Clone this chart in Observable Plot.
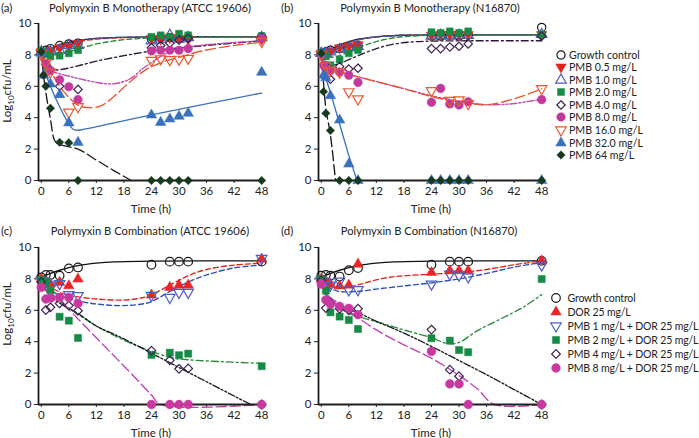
<!DOCTYPE html>
<html><head><meta charset="utf-8">
<script src="https://cdn.jsdelivr.net/npm/d3@7"></script>
<script src="https://cdn.jsdelivr.net/npm/@observablehq/plot@0.6"></script>
<style>
body{margin:0;background:#fff;font-family:Lato,"Open Sans",sans-serif;color:#222;}
#fig{position:relative;width:699px;height:438px;overflow:hidden;background:#fff;}
.abs{position:absolute;white-space:nowrap;}
.ttl{font-size:11.2px;transform:translate(-50%,-50%);}
.tag{font-size:11.5px;transform:translateY(-50%);}
.ylab{font-size:11.5px;transform:translate(-50%,-50%) rotate(-90deg);}
.ylab sub{font-size:8px;}
.leg{font-size:10.6px;}
.leg2{font-size:10.5px;letter-spacing:-0.15px;}
.legrow{position:absolute;display:flex;align-items:center;white-space:nowrap;transform:translateY(-50%);}
.legrow svg{display:block;}
</style></head><body><div id="fig"></div>
<script>
// ---------- data ----------
const timesMono = [0, 0.5, 1, 2, 4, 6, 8, 24, 26, 28, 30, 32, 48];
const timesCombo = [0, 1, 2, 4, 6, 8, 24, 28, 30, 32, 48];
const monoLabels = ["Growth control", "PMB 0.5 mg/L", "PMB 1.0 mg/L", "PMB 2.0 mg/L", "PMB 4.0 mg/L", "PMB 8.0 mg/L", "PMB 16.0 mg/L", "PMB 32.0 mg/L", "PMB 64 mg/L"];
const comboLabels = ["Growth control", "DOR 25 mg/L", "PMB 1 mg/L + DOR 25 mg/L", "PMB 2 mg/L + DOR 25 mg/L", "PMB 4 mg/L + DOR 25 mg/L", "PMB 8 mg/L + DOR 25 mg/L"];
const xTicks = [0, 6, 12, 18, 24, 30, 36, 42, 48];
const yTicks = [0, 2, 4, 6, 8, 10];

// (a) observed, Monotherapy ATCC 19606
const a_gc  = [8.2, null, 8.3, 8.4, 8.6, 8.7, 8.75, 9.0, 9.1, 9.1, 9.05, 9.1, 9.15];
const a_p05 = [8.2, null, 8.2, 8.3, 8.45, 8.55, 8.75, 9.05, 9.0, 9.1, 9.05, 9.0, 9.0];
const a_p1  = [8.2, null, 8.1, 8.2, 8.3, 8.6, 8.6, 8.9, 9.0, 9.25, 9.0, 9.1, 9.1];
const a_p2  = [8.25, null, 8.05, 7.9, 7.95, 8.1, 8.3, 9.15, 9.25, 9.15, 9.35, 9.25, 9.2];
const a_p4  = [8.1, null, 7.4, 7.05, 6.0, null, 5.8, 8.45, 8.6, 8.75, 8.95, 9.05, 9.1];
const a_p8  = [8.1, null, 7.45, 7.0, 6.42, 5.97, 5.15, 8.25, 8.3, 8.3, 8.3, 8.4, 9.05];
const a_p16 = [8.1, null, 7.5, 6.9, null, 4.35, 4.7, 7.65, 7.75, 7.7, 7.72, 7.78, 8.85];
const a_p32 = [8.1, 6.7, null, 6.15, 5.47, 3.67, 2.43, 4.17, 3.7, 3.92, 4.09, 4.28, 6.89];
const a_p64 = [8.2, 6.7, 6.0, 4.6, 2.43, 2.4, 0, 0, 0, 0, 0, 0, 0];
// (a) model fits [time, log10 cfu/mL]
const fa_gc  = [[0,8.2],[2,8.4],[4,8.65],[6,8.8],[8,8.92],[12,9.05],[18,9.12],[24,9.15],[48,9.15]];
const fa_p05 = [[0,8.2],[2,8.3],[4,8.5],[6,8.7],[8,8.85],[12,9.0],[18,9.1],[24,9.12],[48,9.12]];
const fa_p1  = [[0,8.2],[2,8.35],[4,8.6],[6,8.75],[8,8.9],[12,9.05],[18,9.12],[24,9.15],[48,9.15]];
const fa_p2  = [[0,8.2],[1,8.05],[2,8.0],[4,8.05],[6,8.2],[8,8.37],[12,8.7],[16,8.9],[20,9.02],[24,9.08],[32,9.12],[48,9.15]];
const fa_p4  = [[0,8.2],[1,7.5],[2,7.15],[3,7.05],[4,7.05],[8,7.3],[12,7.6],[18,7.95],[24,8.25],[30,8.45],[36,8.6],[42,8.75],[48,8.9]];
const fa_p8  = [[0,8.2],[1,7.4],[2,7.0],[4,6.8],[6,6.65],[8,6.5],[12,6.25],[15,6.15],[18,6.3],[20,6.6],[22,7.1],[24,7.5],[26,7.9],[28,8.2],[32,8.5],[40,8.75],[48,8.9]];
const fa_p16 = [[0,8.2],[1,7.6],[2,7.0],[4,6.0],[6,5.3],[8,4.8],[10,4.65],[13,4.75],[16,5.4],[19,6.2],[22,6.9],[24,7.25],[27,7.6],[30,7.85],[35,8.25],[42,8.6],[48,8.8]];
const fa_p32 = [[0,8.2],[0.5,7.3],[1,6.8],[2,6.0],[4,4.7],[6,3.6],[7,3.25],[8,3.2],[10,3.3],[24,4.18],[48,5.57]];
const fa_p64 = [[0,8.2],[0.5,6.7],[1,5.6],[2,3.9],[3,2.5],[4,2.3],[8,2.0],[12,1.3],[16,0.6],[19.6,0]];

// (b) observed, Monotherapy N16870
const b_gc  = [8.1, null, 8.2, 8.3, 8.4, 8.5, 8.6, 9.2, 9.2, 9.25, 9.2, 9.25, 9.75];
const b_p05 = [8.1, null, 8.15, 8.25, 8.45, 8.55, 8.65, 9.25, 9.3, 9.3, 9.3, 9.3, 9.3];
const b_p1  = [8.1, null, 8.1, 8.2, 8.35, 8.45, 8.55, 9.2, 9.25, 9.2, 9.25, 9.25, 9.3];
const b_p2  = [8.1, null, 7.9, 7.35, 7.7, 8.1, 8.3, 9.45, 9.4, 9.5, 9.4, 9.5, 9.3];
const b_p4  = [8.0, null, 7.3, 6.45, 7.25, 7.1, 7.15, 8.4, 8.4, 8.5, 8.55, 8.7, 9.2];
const b_p8  = [8.0, 7.35, 7.1, 7.0, 6.9, 6.7, 6.25, 4.98, 5.87, 4.87, 4.81, 5.02, 5.15];
const b_p16 = [8.0, null, 7.3, 7.0, 6.9, 5.65, 5.2, 5.72, null, 5.1, 5.13, 4.9, 5.85];
const b_p32 = [8.1, 6.7, 6.55, 5.4, 3.85, 1.05, 0, 0, 0, 0, 0, 0, 0];
const b_p64 = [8.1, 5.66, 4.28, 3.18, 0, 0, 0, 0, 0, 0, 0, 0, 0];
const fb_gc  = [[0,8.1],[2,8.35],[4,8.65],[6,8.85],[8,9.0],[12,9.15],[18,9.25],[24,9.28],[48,9.28]];
const fb_p05 = [[0,8.1],[2,8.3],[4,8.55],[6,8.78],[8,8.95],[12,9.15],[18,9.25],[24,9.28],[48,9.28]];
const fb_p1  = [[0,8.1],[2,8.32],[4,8.6],[6,8.8],[8,8.98],[12,9.15],[18,9.25],[48,9.28]];
const fb_p2  = [[0,8.1],[1,7.95],[2,7.85],[4,7.95],[6,8.2],[8,8.45],[12,8.85],[16,9.1],[20,9.2],[24,9.25],[48,9.28]];
const fb_p4  = [[0,8.1],[1,7.55],[2,7.35],[4,7.45],[6,7.7],[8,7.95],[12,8.4],[16,8.7],[20,8.83],[24,8.88],[48,8.9]];
const fb_p8  = [[0,8.1],[0.5,7.5],[1,7.2],[2,7.0],[4,6.9],[8,6.6],[12,6.3],[18,5.85],[24,5.4],[30,5.05],[36,4.83],[42,4.9],[48,5.19]];
const fb_p16 = [[0,8.1],[0.5,7.5],[1,7.2],[2,7.0],[4,6.9],[8,6.6],[12,6.3],[18,5.85],[24,5.35],[30,5.0],[36,4.83],[42,5.2],[48,5.83]];
const fb_p32 = [[0,8.1],[0.5,6.9],[1,6.5],[2,5.6],[4,3.6],[6,1.6],[7.8,0]];
const fb_p64 = [[0,8.1],[0.5,6.2],[1,4.6],[2,2.9],[3.1,0]];

// (c) observed, Combination ATCC 19606
const c_gc  = [8.1, 8.25, 8.25, 8.2, 8.67, 8.73, 8.9, 9.1, 9.1, 9.1, 9.1];
const c_dor = [8.0, 7.8, 7.67, 7.78, 7.56, 7.99, 6.97, 7.46, 7.6, 7.6, 9.26];
const c_p1  = [7.9, 7.8, 7.6, 7.7, 7.0, 6.93, 6.95, 6.82, 7.14, 7.14, 9.3];
const c_p2  = [7.93, 7.78, 7.29, 5.59, 5.34, 4.24, 3.16, 3.3, 3.14, 3.24, 2.44];
const c_p4  = [7.8, 6.02, 6.19, 6.44, 6.3, 5.97, 3.43, 2.82, 2.27, 2.3, 0];
const c_p8  = [7.46, 6.72, 6.78, 6.82, 6.82, 6.44, 0, 0, 0, 0, 0];
const fc_gc  = [[0,8.1],[2,8.35],[4,8.55],[6,8.72],[8,8.85],[12,9.0],[16,9.08],[24,9.13],[48,9.15]];
const fc_dor = [[0,8.0],[2,7.5],[4,7.15],[6,6.95],[8,6.85],[12,6.72],[18,6.65],[22,6.8],[24,6.99],[28,7.6],[32,8.2],[36,8.6],[42,8.88],[48,9.0]];
const fc_p1  = [[0,7.9],[2,7.3],[4,6.95],[6,6.75],[8,6.6],[12,6.4],[17,6.3],[22,6.4],[24,6.55],[28,7.2],[32,7.8],[36,8.25],[42,8.7],[48,8.88]];
const fc_p2  = [[0,8.0],[1,7.6],[2,7.2],[4,6.55],[8,5.75],[12,5.0],[18,4.1],[22,3.6],[24,3.4],[28,3.0],[32,2.85],[40,2.72],[48,2.62]];
const fc_p4  = [[0,7.9],[1,7.3],[2,6.9],[4,6.45],[8,5.8],[12,5.0],[17.3,4.28],[24,3.27],[30,2.36],[36,1.45],[42,0.54],[45.6,0]];
const fc_p8  = [[0,7.5],[1,7.25],[2,7.05],[4,6.65],[8,5.45],[12,4.25],[16,3.05],[20,1.85],[24,0.6],[26,0],[48,0]];

// (d) observed, Combination N16870
const d_gc  = [8.2, 8.25, 8.2, 8.15, 8.55, 8.69, 8.9, 9.1, 9.1, 9.1, 9.15];
const d_dor = [8.0, 7.85, 7.65, 7.55, 7.6, 8.94, 8.41, 8.52, 8.52, 8.52, 9.15];
const d_p1  = [7.9, 7.8, 7.6, 7.85, 7.3, 7.31, 7.67, 8.3, 8.24, 8.13, 8.88];
const d_p2  = [8.0, 7.25, 5.87, 5.6, 5.38, 4.81, 4.22, 4.07, 3.47, 3.33, 7.99];
const d_p4  = [7.9, 6.14, 6.5, 6.1, 6.0, 6.1, 4.77, 2.22, 1.8, null, 0];
const d_p8  = [7.67, 6.67, 6.4, 6.25, 6.12, 5.72, 3.39, 1.31, 1.31, 0, 0];
const fd_gc  = [[0,8.1],[2,8.35],[4,8.55],[6,8.72],[8,8.85],[12,9.0],[16,9.08],[24,9.13],[48,9.15]];
const fd_dor = [[0,8.0],[2,7.55],[4,7.4],[6.4,7.5],[8,7.62],[13.7,8.05],[18,8.2],[24,8.3],[30,8.4],[36,8.6],[42,8.9],[48,9.15]];
const fd_p1  = [[0,7.9],[2,7.4],[4,7.2],[6.4,7.18],[8,7.2],[12,7.35],[18,7.55],[24,7.75],[30,8.0],[36,8.35],[42,8.75],[48,9.05]];
const fd_p2  = [[0,8.0],[1,7.2],[2,6.6],[4,6.15],[6.4,5.75],[8,5.6],[13.7,5.13],[18,4.75],[24,4.25],[27.5,3.88],[30,3.95],[34,4.7],[39,5.44],[44,6.2],[48,7.0]];
const fd_p4  = [[0,7.9],[1,7.0],[2,6.6],[4,6.3],[8,5.85],[12,5.3],[18,4.55],[24,3.7],[30,2.8],[36,1.9],[42,0.95],[48,0]];
const fd_p8  = [[0,7.7],[1,7.1],[2,6.8],[4,6.4],[6.4,5.87],[12,4.75],[18,3.8],[24,2.95],[30,1.85],[34,1.0],[37.7,0],[48,0]];

// ---------- styles ----------
const triDown = {draw(ctx, size) {
  const s3 = Math.sqrt(3), y = -Math.sqrt(size / (s3 * 3));
  ctx.moveTo(0, -y * 2); ctx.lineTo(-s3 * y, y); ctx.lineTo(s3 * y, y); ctx.closePath();
}};
const symMap = {circle: d3.symbolCircle, triangle: d3.symbolTriangle, square: d3.symbolSquare, diamond2: d3.symbolDiamond2};
const monoStyles = [
  {sym: "circle", filled: false, color: "#1a1a1a", r: 4.1, line: "#1a1a1a", dash: null},
  {sym: triDown, filled: true, color: "#e2231a", r: 3.9, line: "#e2231a", dash: "5,3"},
  {sym: "triangle", filled: false, color: "#4a5cb0", r: 3.9, line: "#3a52a8", dash: "5,3"},
  {sym: "square", filled: true, color: "#178a45", r: 3.9, line: "#2a8b3a", dash: "5,3"},
  {sym: "diamond2", filled: false, color: "#3b2350", r: 3.8, line: "#2e1a3a", dash: "7,3,2,3"},
  {sym: "circle", filled: true, color: "#c2399b", r: 4.3, line: "#c646b0", dash: "7,2,2,2,2,2"},
  {sym: triDown, filled: false, color: "#ea5a2e", r: 3.9, line: "#e8552e", dash: "10,4"},
  {sym: "triangle", filled: true, color: "#3a70bd", r: 3.9, line: "#3a70bd", dash: null},
  {sym: "diamond2", filled: true, color: "#173a1e", r: 3.8, line: "#1a1a1a", dash: "10,4"}
];
const comboStyles = [
  {sym: "circle", filled: false, color: "#1a1a1a", r: 4.3, line: "#111", dash: null},
  {sym: "triangle", filled: true, color: "#e8262a", r: 3.9, line: "#e2231a", dash: "5,3"},
  {sym: triDown, filled: false, color: "#4b5fc0", r: 3.9, line: "#3050b0", dash: "5,3"},
  {sym: "square", filled: true, color: "#178a45", r: 4.0, line: "#2b8a3e", dash: "7,3,2,3"},
  {sym: "diamond2", filled: false, color: "#3b2350", r: 3.9, line: "#1a1a1a", dash: "7,2,2,2,2,2"},
  {sym: "circle", filled: true, color: "#c8389f", r: 4.4, line: "#c040b0", dash: "10,4"}
];
const xDomain = [-0.6, 48.4];

function panel(times, obs, fits, styles) {
  const marks = [];
  fits.forEach((f, i) => {
    const s = styles[i];
    marks.push(Plot.line(f, {x: d => d[0], y: d => d[1], stroke: s.line, strokeWidth: 1.35,
      strokeDasharray: s.dash || undefined, curve: "catmull-rom"}));
  });
  marks.push(Plot.ruleY([0], {stroke: "#1f1f1f", strokeWidth: 1.8}));
  marks.push(Plot.ruleX([xDomain[0]], {stroke: "#1f1f1f", strokeWidth: 1.8}));
  obs.forEach((vals, i) => {
    const s = styles[i];
    const data = times.map((t, j) => ({t, v: vals[j]})).filter(d => d.v != null);
    marks.push(Plot.dot(data, {x: "t", y: "v", symbol: s.sym, r: s.r,
      fill: s.filled ? s.color : "none", stroke: s.color, strokeWidth: s.filled ? 0.5 : 1.2}));
  });
  return Plot.plot({
    width: 270, height: 215, marginLeft: 38, marginRight: 7, marginTop: 23, marginBottom: 35,
    style: {fontFamily: "Lato, sans-serif", fontSize: "11.5px", color: "#222", background: "transparent", overflow: "visible"},
    x: {domain: xDomain, ticks: xTicks, tickSize: 3, tickPadding: 3, label: "Time (h)", labelAnchor: "center", labelArrow: "none"},
    y: {domain: [0, 10], ticks: yTicks, tickSize: 4, tickPadding: 3, label: null},
    marks
  });
}

const fig = document.getElementById("fig");
function place(el, left, top) { el.style.position = "absolute"; el.style.left = left + "px"; el.style.top = top + "px"; fig.appendChild(el); }
function text(cls, html, left, top) { const d = document.createElement("div"); d.className = "abs " + cls; d.innerHTML = html; d.style.left = left + "px"; d.style.top = top + "px"; fig.appendChild(d); }

place(panel(timesMono, [a_gc,a_p05,a_p1,a_p2,a_p4,a_p8,a_p16,a_p32,a_p64], [fa_gc,fa_p05,fa_p1,fa_p2,fa_p4,fa_p8,fa_p16,fa_p32,fa_p64], monoStyles), 0, 0);
place(panel(timesMono, [b_gc,b_p05,b_p1,b_p2,b_p4,b_p8,b_p16,b_p32,b_p64], [fb_gc,fb_p05,fb_p1,fb_p2,fb_p4,fb_p8,fb_p16,fb_p32,fb_p64], monoStyles), 280, 0);
place(panel(timesCombo, [c_gc,c_dor,c_p1,c_p2,c_p4,c_p8], [fc_gc,fc_dor,fc_p1,fc_p2,fc_p4,fc_p8], comboStyles), 0, 224);
place(panel(timesCombo, [d_gc,d_dor,d_p1,d_p2,d_p4,d_p8], [fd_gc,fd_dor,fd_p1,fd_p2,fd_p4,fd_p8], comboStyles), 280, 224);

text("tag", "(a)", 1, 7);
text("ttl", "Polymyxin B Monotherapy (ATCC 19606)", 150, 7);
text("tag", "(b)", 281, 7);
text("ttl", "Polymyxin B Monotherapy (N16870)", 430, 7);
text("tag", "(c)", 1, 230);
text("ttl", "Polymyxin B Combination (ATCC 19606)", 150, 230);
text("tag", "(d)", 281, 230);
text("ttl", "Polymyxin B Combination (N16870)", 429, 230);
text("ylab", "Log<sub>10</sub>cfu/mL", 8, 91);
text("ylab", "Log<sub>10</sub>cfu/mL", 8, 314);

function legend(labels, styles, symX, textX, y0, dy, cls) {
  labels.forEach((lab, i) => {
    const s = styles[i];
    const row = document.createElement("div");
    row.className = "legrow " + cls;
    row.style.left = (symX - 7) + "px"; row.style.top = (y0 + dy * i) + "px";
    const svg = d3.create("svg").attr("width", 14).attr("height", 14);
    const type = typeof s.sym === "string" ? symMap[s.sym] : s.sym;
    svg.append("path").attr("transform", "translate(7,7)")
      .attr("d", d3.symbol(type, Math.PI * s.r * s.r)())
      .attr("fill", s.filled ? s.color : "none").attr("stroke", s.color).attr("stroke-width", s.filled ? 0.5 : 1.2);
    row.appendChild(svg.node());
    const sp = document.createElement("span"); sp.textContent = lab; sp.style.marginLeft = (textX - symX - 7) + "px";
    row.appendChild(sp);
    fig.appendChild(row);
  });
}
legend(monoLabels, monoStyles, 560.5, 569, 54.7, 12.55, "leg");
legend(comboLabels, comboStyles, 556, 567.5, 298.3, 14, "leg2");
</script></body></html>
